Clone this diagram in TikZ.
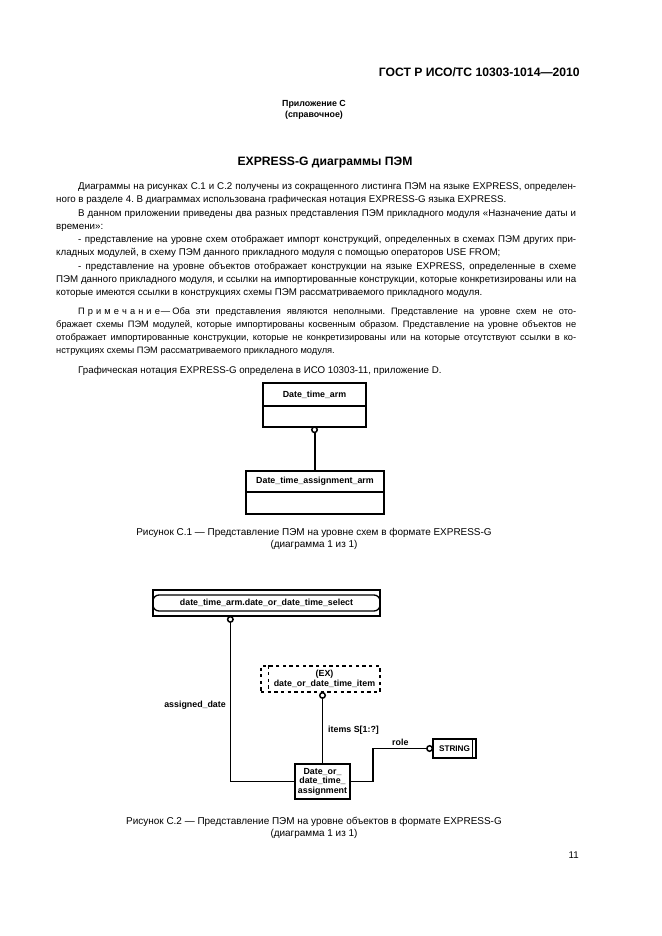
\documentclass[tikz,border=0pt]{standalone}
\usepackage{fontspec}
\setmainfont{Liberation Sans}
\usetikzlibrary{arrows.meta,positioning}
\frenchspacing

\newlength{\pxu}
\setlength{\pxu}{0.3177mm}
\newcommand{\bodyfont}{\fontsize{8.8}{12}\selectfont}
\newcommand{\capfont}{\fontsize{9}{12}\selectfont}
\newcommand{\notefont}{\fontsize{8.4}{11}\selectfont}
\newcommand{\diafont}{\fontsize{8}{8.6}\selectfont\bfseries}
\newcommand{\jline}[2]{\hbox to #1\pxu{\spaceskip=.278em plus .6em minus .08em\relax #2}}
\newcommand{\spc}[1]{#1\kern.33em}

\tikzset{
  txt/.style={anchor=base west, inner sep=0pt, font=\bodyfont},
  note/.style={anchor=base west, inner sep=0pt, font=\notefont},
  ctr/.style={anchor=base, inner sep=0pt, font=\capfont},
  enthd/.style={draw, line width=2\pxu, inner sep=0pt, outer sep=0pt, font=\diafont},
  entbd/.style={draw, line width=2\pxu, inner sep=0pt, outer sep=0pt},
  rel/.style={line width=2\pxu},
  lnk/.style={line width=1.3\pxu},
  lbl/.style={inner sep=0pt, font=\diafont},
  ocirc/.style={circle, draw, fill=white, line width=1.5\pxu, minimum size=5.5\pxu,
                inner sep=0pt, outer sep=0pt}
}

\begin{document}
\begin{tikzpicture}[x=\pxu, y=-\pxu]

  \useasboundingbox (0,0) rectangle (661,936);
  \fill[white] (0,0) rectangle (661,936);

  %% page head
  \node[anchor=base east, inner sep=0pt, font=\fontsize{11}{13}\selectfont\bfseries]
  (gost) at (580,77) {ГОСТ Р ИСО/ТС 10303-1014—2010};
  \node[anchor=base, inner sep=0pt, font=\fontsize{8}{10}\selectfont\bfseries]
  (annex) at (314,107) {Приложение С};
  \node[anchor=base, inner sep=0pt, font=\fontsize{8}{10}\selectfont\bfseries]
  (annexb) at (314,118) {(справочное)};
  \node[anchor=base, inner sep=0pt, font=\fontsize{11}{13}\selectfont\bfseries]
  (title) at (325,165) {EXPRESS-G диаграммы ПЭМ};

  %% text
  \node[txt] (l1) at (78,189) {\jline{498}{Диаграммы на рисунках С.1 и С.2 получены из сокращенного листинга ПЭМ на языке EXPRESS, определен-}};
  \node[txt] (l2) at (56,202) {ного в разделе 4. В диаграммах использована графическая нотация EXPRESS-G языка EXPRESS.};
  \node[txt] (l3) at (78,216) {\jline{498}{В данном приложении приведены два разных представления ПЭМ прикладного модуля «Назначение даты и}};
  \node[txt] (l4) at (56,229) {времени»:};
  \node[txt] (l5) at (78,242) {\jline{498}{- представление на уровне схем отображает импорт конструкций, определенных в схемах ПЭМ других при-}};
  \node[txt] (l6) at (56,255) {кладных модулей, в схему ПЭМ данного прикладного модуля с помощью операторов USE FROM;};
  \node[txt] (l7) at (78,269) {\jline{498}{- представление на уровне объектов отображает конструкции на языке EXPRESS, определенные в схеме}};
  \node[txt] (l8) at (56,282) {\jline{520}{ПЭМ данного прикладного модуля, и ссылки на импортированные конструкции, которые конкретизированы или на}};
  \node[txt] (l9) at (56,295) {которые имеются ссылки в конструкциях схемы ПЭМ рассматриваемого прикладного модуля.};

  \node[note] (n1) at (78,314) {\jline{498}{\spc{П}\spc{р}\spc{и}\spc{м}\spc{е}\spc{ч}\spc{а}\spc{н}\spc{и}е\kern.1em—\kern.25em Оба эти представления являются неполными. Представление на уровне схем не ото-}};
  \node[note] (n2) at (56,327) {\jline{520}{бражает схемы ПЭМ модулей, которые импортированы косвенным образом. Представление на уровне объектов не}};
  \node[note] (n3) at (56,340) {\jline{520}{отображает импортированные конструкции, которые не конкретизированы или на которые отсутствуют ссылки в ко-}};
  \node[note] (n4) at (56,353) {нструкциях схемы ПЭМ рассматриваемого прикладного модуля.};

  \node[txt] (l10) at (78,373) {Графическая нотация EXPRESS-G определена в ИСО 10303-11, приложение D.};

  %% figure C.1
  \node[enthd, minimum width=103\pxu, minimum height=23\pxu] (arm) at (314.5,394.5) {Date\_time\_arm};
  \node[entbd, minimum width=103\pxu, minimum height=21\pxu, below=0pt of arm] (armb) {};
  \node[ocirc, below=0pt of armb] (c1) {};

  \node[enthd, minimum width=138\pxu, minimum height=21\pxu] (asg) at (315,481.5) {Date\_time\_assignment\_arm};
  \node[entbd, minimum width=138\pxu, minimum height=22\pxu, below=0pt of asg] (asgb) {};

  \draw[rel] (c1) -- (c1 |- asg.north);

  \node[ctr] (cap1) at (314,535) {Рисунок С.1 — Представление ПЭМ на уровне схем в формате EXPRESS-G};
  \node[ctr] (cap1b) at (314,547) {(диаграмма 1 из 1)};

  %% figure C.2
  \node[draw, lnk, minimum width=227\pxu, minimum height=26\pxu, inner sep=0pt] (sel) at (266.5,603) {};
  \node[draw, lnk, rounded corners=6\pxu, minimum width=227\pxu, minimum height=16\pxu,
        inner sep=0pt, font=\diafont] (selin) at (sel.center) {date\_time\_arm.date\_or\_date\_time\_select};
  \node[ocirc, anchor=north] (c2) at ([xshift=78\pxu]sel.south west) {};

  \node[draw, lnk, dashed, minimum width=119\pxu, minimum height=26\pxu, inner sep=0pt] (ex) at (320.5,679) {};
  \draw[lnk, dashed] ([xshift=8\pxu]ex.north west) -- ([xshift=8\pxu]ex.south west);
  \node[lbl, align=center] (extxt) at (324.5,679) {(EX)\\date\_or\_date\_time\_item};

  \node[draw, line width=2\pxu, minimum width=55\pxu, minimum height=35\pxu, inner sep=0pt,
        align=center, font=\diafont] (dta) at (322.5,781.5) {Date\_or\_\\date\_time\_\\assignment};
  \node[ocirc, anchor=north] (c3) at (dta.north |- ex.south) {};

  \node[draw, lnk, minimum width=43\pxu, minimum height=19\pxu, inner sep=0pt,
        font=\fontsize{7.4}{8}\selectfont\bfseries] (str) at (454.5,748.5) {STRING\hspace{5\pxu}};
  \draw[lnk] ([xshift=-4\pxu]str.north east) -- ([xshift=-4\pxu]str.south east);
  \node[ocirc, anchor=east] (c4) at (str.west) {};

  \draw[lnk] (c2.south) |- (dta.west);
  \draw[lnk] (c3.south) -- (dta.north);
  \draw[lnk] (dta.east) -- ++(22,0) |- (c4.west);

  \node[lbl, anchor=base east] (asgd) at (226,707) {assigned\_date};
  \node[lbl, anchor=base west] (items) at (328,732) {items S[1:?]};
  \node[lbl, anchor=base west] (role) at (392,745) {role};

  \node[ctr] (cap2) at (314,824) {Рисунок С.2 — Представление ПЭМ на уровне объектов в формате EXPRESS-G};
  \node[ctr] (cap2b) at (314,836) {(диаграмма 1 из 1)};

  \node[anchor=base east, inner sep=0pt, font=\bodyfont] (pnum) at (579,858) {11};

\end{tikzpicture}
\end{document}
